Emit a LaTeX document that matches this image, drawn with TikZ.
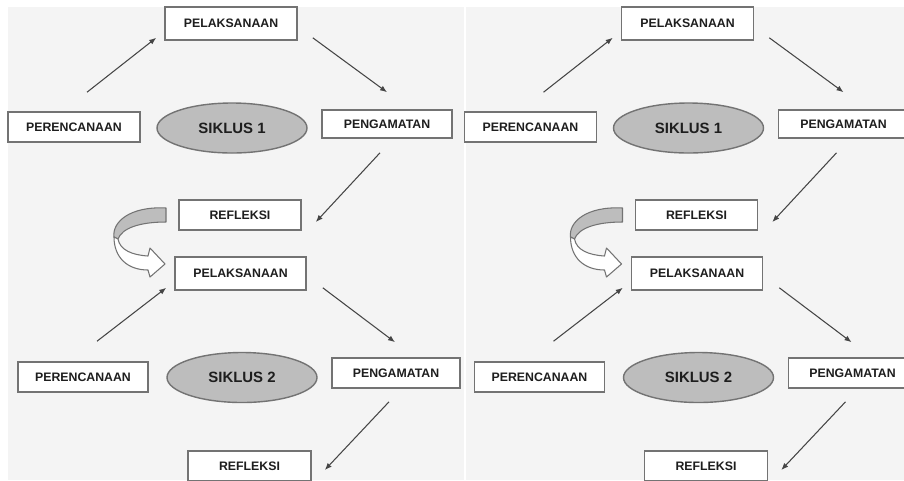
\documentclass[tikz,border=0pt]{standalone}
\usepackage{fontspec}
\setmainfont{Liberation Sans}
\usetikzlibrary{arrows.meta,shapes.geometric}
\definecolor{panelbg}{HTML}{F4F4F4}
\definecolor{boxline}{HTML}{737373}
\definecolor{cyclefill}{HTML}{BDBDBD}
\definecolor{inktext}{HTML}{1E1E1E}
\definecolor{flowline}{HTML}{454545}

\begin{document}
\begin{tikzpicture}[
  >={Latex[length=1.4mm,width=1.1mm]},
  stage/.style={draw=boxline, line width=0.9pt, fill=white, text=inktext, font=\fontsize{7}{8}\selectfont\bfseries, inner sep=0pt, minimum width=26mm, minimum height=6mm},
  siklus/.style={ellipse, draw=boxline, line width=0.8pt, fill=cyclefill, text=inktext, font=\fontsize{8.5}{10}\selectfont\bfseries, minimum width=30mm, minimum height=10mm, inner sep=0pt},
  flow/.style={->, flowline, line width=0.6pt},
  bendarrow/.style={draw=boxline, line width=0.6pt, line join=round},
]
% ---- page and the two panels
\useasboundingbox (0,0) rectangle (18.08,-9.6);
\clip (0,0) rectangle (18.08,-9.6);
\fill[panelbg] (0.16,-0.14) rectangle (9.28,-9.6);
\fill[panelbg] (9.32,-0.14) rectangle (18.08,-9.6);

% ---- left panel: siklus 1
\node[stage, minimum width=26.4mm, minimum height=6.6mm] (act1) at (4.62,-0.47) {PELAKSANAAN};
\node[stage, minimum width=26.4mm] (plan1) at (1.48,-2.54) {PERENCANAAN};
\node[siklus] (cyc1) at (4.64,-2.56) {SIKLUS 1};
\node[stage, minimum height=5.6mm] (obs1) at (7.74,-2.48) {PENGAMATAN};
\node[stage, minimum width=24.4mm] (refl1) at (4.80,-4.30) {REFLEKSI};
\draw[flow] ([xshift=2.6mm,yshift=3.8mm]plan1.north) -- ([xshift=-1.6mm,yshift=0.6mm]act1.south west);
\draw[flow] ([xshift=3mm,yshift=0.6mm]act1.south east) -- ([yshift=3.4mm]obs1.north);
\draw[flow] ([xshift=-1.4mm,yshift=-2.8mm]obs1.south) -- ([xshift=2.8mm,yshift=-1.4mm]refl1.east);

% ---- left panel: turning arrow from refleksi to the next cycle
\draw[bendarrow, fill=cyclefill] (3.32,-4.16) .. controls (2.60,-4.12) and (2.24,-4.44) .. (2.28,-4.74)
  -- (2.36,-4.78) .. controls (2.44,-4.56) and (2.80,-4.44) .. (3.32,-4.44) -- cycle;
\draw[bendarrow, fill=white] (2.28,-4.74) .. controls (2.28,-5.16) and (2.56,-5.40) .. (2.96,-5.40)
  -- (3.00,-5.54) -- (3.30,-5.28) -- (3.00,-4.96) -- (2.96,-5.12)
  .. controls (2.64,-5.10) and (2.40,-5.00) .. (2.36,-4.78) -- cycle;

% ---- left panel: siklus 2
\node[stage, minimum width=26.2mm, minimum height=6.6mm] (act2) at (4.81,-5.47) {PELAKSANAAN};
\node[stage] (plan2) at (1.66,-7.54) {PERENCANAAN};
\node[siklus] (cyc2) at (4.84,-7.55) {SIKLUS 2};
\node[stage, minimum width=25.6mm] (obs2) at (7.92,-7.46) {PENGAMATAN};
\node[stage, minimum width=24.6mm] (refl2) at (4.99,-9.32) {REFLEKSI};
\draw[flow] ([xshift=2.8mm,yshift=4mm]plan2.north) -- ([xshift=-1.6mm,yshift=0.6mm]act2.south west);
\draw[flow] ([xshift=3.2mm,yshift=0.6mm]act2.south east) -- ([xshift=-0.2mm,yshift=3mm]obs2.north);
\draw[flow] ([xshift=-1.4mm,yshift=-2.6mm]obs2.south) -- ([xshift=2.6mm,yshift=-0.8mm]refl2.east);

% ---- right panel: the same scheme again
\begin{scope}[xshift=9.13cm]
\node[stage, minimum width=26.4mm, minimum height=6.6mm] (act1r) at (4.62,-0.47) {PELAKSANAAN};
\node[stage, minimum width=26.4mm] (plan1r) at (1.48,-2.54) {PERENCANAAN};
\node[siklus] (cyc1r) at (4.64,-2.56) {SIKLUS 1};
\node[stage, minimum height=5.6mm] (obs1r) at (7.74,-2.48) {PENGAMATAN};
\node[stage, minimum width=24.4mm] (refl1r) at (4.80,-4.30) {REFLEKSI};
\draw[flow] ([xshift=2.6mm,yshift=3.8mm]plan1r.north) -- ([xshift=-1.6mm,yshift=0.6mm]act1r.south west);
\draw[flow] ([xshift=3mm,yshift=0.6mm]act1r.south east) -- ([yshift=3.4mm]obs1r.north);
\draw[flow] ([xshift=-1.4mm,yshift=-2.8mm]obs1r.south) -- ([xshift=2.8mm,yshift=-1.4mm]refl1r.east);

\draw[bendarrow, fill=cyclefill] (3.32,-4.16) .. controls (2.60,-4.12) and (2.24,-4.44) .. (2.28,-4.74)
  -- (2.36,-4.78) .. controls (2.44,-4.56) and (2.80,-4.44) .. (3.32,-4.44) -- cycle;
\draw[bendarrow, fill=white] (2.28,-4.74) .. controls (2.28,-5.16) and (2.56,-5.40) .. (2.96,-5.40)
  -- (3.00,-5.54) -- (3.30,-5.28) -- (3.00,-4.96) -- (2.96,-5.12)
  .. controls (2.64,-5.10) and (2.40,-5.00) .. (2.36,-4.78) -- cycle;

\node[stage, minimum width=26.2mm, minimum height=6.6mm] (act2r) at (4.81,-5.47) {PELAKSANAAN};
\node[stage] (plan2r) at (1.66,-7.54) {PERENCANAAN};
\node[siklus] (cyc2r) at (4.84,-7.55) {SIKLUS 2};
\node[stage, minimum width=25.6mm] (obs2r) at (7.92,-7.46) {PENGAMATAN};
\node[stage, minimum width=24.6mm] (refl2r) at (4.99,-9.32) {REFLEKSI};
\draw[flow] ([xshift=2.8mm,yshift=4mm]plan2r.north) -- ([xshift=-1.6mm,yshift=0.6mm]act2r.south west);
\draw[flow] ([xshift=3.2mm,yshift=0.6mm]act2r.south east) -- ([xshift=-0.2mm,yshift=3mm]obs2r.north);
\draw[flow] ([xshift=-1.4mm,yshift=-2.6mm]obs2r.south) -- ([xshift=2.6mm,yshift=-0.8mm]refl2r.east);
\end{scope}
\end{tikzpicture}
\end{document}
